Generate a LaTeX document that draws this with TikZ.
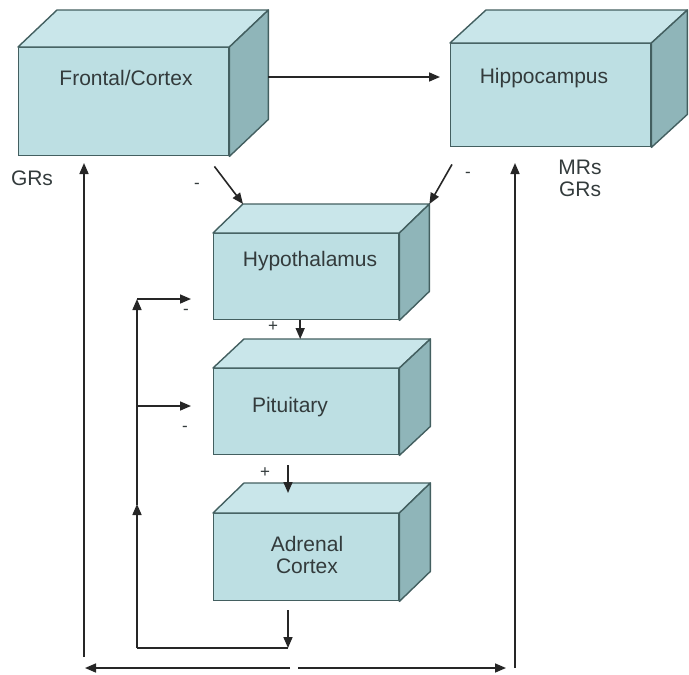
\documentclass[tikz,border=0pt]{standalone}
\usepackage{fontspec}
\setmainfont{Liberation Sans}
\usetikzlibrary{arrows.meta,calc}

\definecolor{frontcol}{HTML}{BDDFE3}
\definecolor{topcol}{HTML}{C9E6EA}
\definecolor{sidecol}{HTML}{8FB5B9}
\definecolor{edgecol}{HTML}{435F60}
\definecolor{textcol}{HTML}{333B3C}

\tikzset{
  front/.style={draw=edgecol, fill=frontcol, line width=1.4pt, inner sep=0pt},
  topface/.style={draw=edgecol, fill=topcol, line width=1.4pt, line join=round},
  sideface/.style={draw=edgecol, fill=sidecol, line width=1.4pt, line join=round},
  lbl/.style={text=textcol, font=\fontsize{21}{25}\selectfont, align=center, inner sep=1pt},
  sign/.style={text=textcol, font=\fontsize{17}{19}\selectfont, inner sep=0pt},
  arr/.style={draw=black!85, line width=1.6pt, -{Triangle[length=11pt,width=9pt]}},
  conn/.style={draw=black!85, line width=1.6pt}
}

% block: name, x, y (top left of front face), width, height, depth dx, dy
\newcommand{\drawblock}[7]{%
  \node[front, minimum width=#4pt, minimum height=#5pt, anchor=north west] (#1) at (#2,#3) {};
  \coordinate (#1-bl) at ($(#1.north west)+(#6pt,#7pt)$);
  \coordinate (#1-br) at ($(#1.north east)+(#6pt,#7pt)$);
  \coordinate (#1-bb) at ($(#1.south east)+(#6pt,#7pt)$);
  \filldraw[topface] (#1.north west) -- (#1-bl) -- (#1-br) -- (#1.north east) -- cycle;
  \filldraw[sideface] (#1.north east) -- (#1-br) -- (#1-bb) -- (#1.south east) -- cycle;
}

\begin{document}
\begin{tikzpicture}[x=1pt, y=-1pt]
  \useasboundingbox (0,0) rectangle (689,675);

  % the five blocks
  \drawblock{fc}{18}{47}{210}{108}{39}{37}
  \drawblock{hc}{450}{43}{200}{103}{36}{33}
  \drawblock{hy}{213}{233}{185}{86}{30}{29}
  \drawblock{pt}{213}{368}{185}{86}{31}{29}
  \drawblock{ad}{213}{513}{185}{87}{31}{30}

  \node[lbl] (fc-t) at (126,78) {Frontal/Cortex};
  \node[lbl] (hc-t) at (544,78) {Hippocampus};
  \node[lbl] (hy-t) at (310,261) {Hypothalamus};
  \node[lbl] (pt-t) at (290,407) {Pituitary};
  \node[lbl] (ad-t) at (307,555) {Adrenal\\[-3pt]Cortex};

  \node[lbl] (gr1) at (32,178) {GRs};
  \node[lbl] (gr2) at (580,178) {MRs\\[-3pt]GRs};

  % top connections
  \coordinate (a1) at (fc-bb |- 0,77);
  \coordinate (a2) at (440,77);
  \draw[arr] (a1) -- (a2);
  \coordinate (b1) at ([shift={(-15,10)}]fc.south east);
  \draw[arr] (b1) -- (hy-bl);
  \node[sign] (m1) at (197,186) {-};
  \coordinate (c1) at ([shift={(2,17)}]hc.south west);
  \draw[arr] (c1) -- (hy-br);
  \node[sign] (m2) at (468,175) {-};

  % long verticals and bottom line
  \coordinate (l1) at (84,657);
  \coordinate (l2) at (84,163);
  \draw[arr] (l1) -- (l2);
  \coordinate (r1) at (515,668);
  \coordinate (r2) at (515,163);
  \draw[arr] (r1) -- (r2);
  \coordinate (m-l) at (290,668);
  \coordinate (m-r) at (298,668);
  \draw[arr] (m-l) -- (85,668);
  \draw[arr] (m-r) -- (506,668);

  % down the axis
  \coordinate (h1) at ([xshift=-6]hy.south);
  \draw[arr] (h1) -- (h1 |- pt-bl);
  \node[sign] (p1) at (273,327) {+};
  \coordinate (p2) at (288,465);
  \coordinate (p3) at (288,493);
  \draw[arr] (p2) -- (p3);
  \node[sign] (p4) at (265,473) {+};
  \coordinate (d1) at (288,610);
  \coordinate (d2) at (288,648);
  \draw[arr] (d1) -- (d2);

  % feedback loop
  \coordinate (f1) at (137,648);
  \coordinate (f2) at (137,299);
  \coordinate (f3) at (137,406);
  \draw[conn] (d2) -- (f1);
  \draw[arr] (f1) -- (137,504);
  \draw[arr] (137,505) -- (f2);
  \draw[arr] (f2) -- (191,299);
  \draw[arr] (f3) -- (191,406);
  \node[sign] (m3) at (186,312) {-};
  \node[sign] (m4) at (185,429) {-};
\end{tikzpicture}
\end{document}
